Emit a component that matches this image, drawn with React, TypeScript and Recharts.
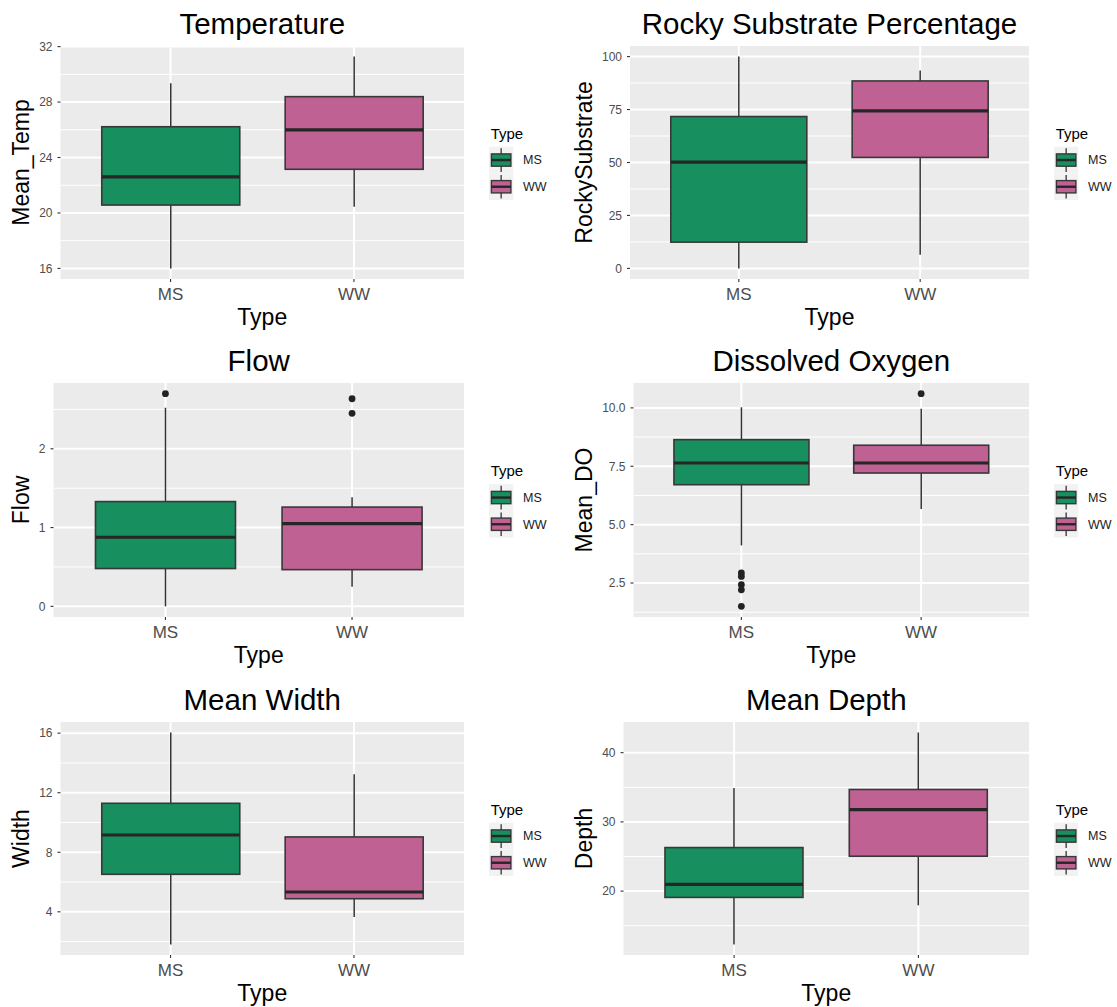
import React from 'react';
import { ComposedChart, Bar, XAxis, YAxis, CartesianGrid, Scatter } from 'recharts';

const FONT = '"Liberation Sans", Arial, Helvetica, sans-serif';

// ---------- data ----------
const categories = ['MS', 'WW'];
const boxFills = ['#178F5F', '#C06194'];
const legendTitle = 'Type';
const xTitle = 'Type';

// Temperature
const tempLow = [16.0, 20.45];
const tempQ1 = [20.57, 23.15];
const tempMedian = [22.61, 25.99];
const tempQ3 = [26.22, 28.39];
const tempHigh = [29.36, 31.28];
const tempOutliers: number[][] = [[], []];
const tempTicks = [16, 20, 24, 28, 32];

// Rocky substrate
const rockLow = [0, 6.5];
const rockQ1 = [12.4, 52.4];
const rockMedian = [50.2, 74.4];
const rockQ3 = [71.7, 88.5];
const rockHigh = [100, 93.4];
const rockOutliers: number[][] = [[], []];
const rockTicks = [0, 25, 50, 75, 100];

// Flow
const flowLow = [0, 0.25];
const flowQ1 = [0.48, 0.466];
const flowMedian = [0.877, 1.05];
const flowQ3 = [1.33, 1.26];
const flowHigh = [2.52, 1.385];
const flowOutliers: number[][] = [[2.7], [2.45, 2.635]];
const flowTicks = [0, 1, 2];

// Dissolved oxygen
const doLow = [4.11, 5.67];
const doQ1 = [6.71, 7.21];
const doMedian = [7.64, 7.64];
const doQ3 = [8.64, 8.4];
const doHigh = [10.03, 9.96];
const doOutliers: number[][] = [[2.93, 2.78, 2.43, 2.21, 1.5], [10.61]];
const doTicks = [2.5, 5.0, 7.5, 10.0];

// Width
const widthLow = [1.81, 3.65];
const widthQ1 = [6.52, 4.88];
const widthMedian = [9.16, 5.33];
const widthQ3 = [11.29, 9.03];
const widthHigh = [16.04, 13.24];
const widthOutliers: number[][] = [[], []];
const widthTicks = [4, 8, 12, 16];

// Depth
const depthLow = [12.3, 17.94];
const depthQ1 = [19.09, 25.04];
const depthMedian = [20.96, 31.76];
const depthQ3 = [26.29, 34.68];
const depthHigh = [34.88, 42.9];
const depthOutliers: number[][] = [[], []];
const depthTicks = [20, 30, 40];

// ---------- panel options ----------
const panels = [
  { title: 'Temperature', yTitle: 'Mean_Temp', low: tempLow, q1: tempQ1, median: tempMedian, q3: tempQ3, high: tempHigh, outliers: tempOutliers, ticks: tempTicks, digits: 0,
    layout: { cellX: 0, cellY: 0, cellW: 554, cellH: 335, L: 60.5, R: 464, T: 46, B: 279 } },
  { title: 'Rocky Substrate Percentage', yTitle: 'RockySubstrate', low: rockLow, q1: rockQ1, median: rockMedian, q3: rockQ3, high: rockHigh, outliers: rockOutliers, ticks: rockTicks, digits: 0,
    layout: { cellX: 563, cellY: 0, cellW: 554, cellH: 335, L: 630, R: 1029, T: 46, B: 279 } },
  { title: 'Flow', yTitle: 'Flow', low: flowLow, q1: flowQ1, median: flowMedian, q3: flowQ3, high: flowHigh, outliers: flowOutliers, ticks: flowTicks, digits: 0,
    layout: { cellX: 0, cellY: 335, cellW: 554, cellH: 335, L: 53.5, R: 464, T: 383, B: 617 } },
  { title: 'Dissolved Oxygen', yTitle: 'Mean_DO', low: doLow, q1: doQ1, median: doMedian, q3: doQ3, high: doHigh, outliers: doOutliers, ticks: doTicks, digits: 1,
    layout: { cellX: 563, cellY: 335, cellW: 554, cellH: 335, L: 633.5, R: 1029, T: 383, B: 617 } },
  { title: 'Mean Width', yTitle: 'Width', low: widthLow, q1: widthQ1, median: widthMedian, q3: widthQ3, high: widthHigh, outliers: widthOutliers, ticks: widthTicks, digits: 0,
    layout: { cellX: 0, cellY: 670, cellW: 554, cellH: 337, L: 60.5, R: 464, T: 722, B: 955 } },
  { title: 'Mean Depth', yTitle: 'Depth', low: depthLow, q1: depthQ1, median: depthMedian, q3: depthQ3, high: depthHigh, outliers: depthOutliers, ticks: depthTicks, digits: 0,
    layout: { cellX: 563, cellY: 670, cellW: 554, cellH: 337, L: 623.5, R: 1029, T: 722, B: 955 } },
];

// ---------- shapes ----------
const WhiskerShape = (props: any) => {
  const { x, y, width, height } = props;
  const cx = x + width / 2;
  return <line x1={cx} x2={cx} y1={y} y2={y + height} stroke="#333333" strokeWidth={1.5} />;
};

const BoxShape = (props: any) => {
  const { x, y, width, height, payload } = props;
  const top = Math.min(y, y + height);
  const h = Math.abs(height);
  const medY = top + (h * (payload.q3 - payload.median)) / (payload.q3 - payload.q1);
  return (
    <g>
      <rect x={x} y={top} width={width} height={h} fill={payload.fill} stroke="#383838" strokeWidth={1.6} />
      <line x1={x} x2={x + width} y1={medY} y2={medY} stroke="#262626" strokeWidth={3.2} />
    </g>
  );
};

const OutlierDot = (props: any) => {
  const { cx, cy } = props;
  return <circle cx={cx} cy={cy} r={3.4} fill="#222222" />;
};

// ---------- panel ----------
function BoxPanel({ p }: { p: any }) {
  const { cellX, cellY, cellW, cellH, L, R, T, B } = p.layout;
  const rows = categories.map((c, i) => ({
    type: c,
    whisker: [p.low[i], p.high[i]],
    box: [p.q1[i], p.q3[i]],
    q1: p.q1[i],
    q3: p.q3[i],
    median: p.median[i],
    fill: boxFills[i],
  }));
  const outlierRows = categories.flatMap((c, i) => p.outliers[i].map((v: number) => ({ pos: i + 1, value: v })));
  const all = [...p.low, ...p.high, ...p.outliers.flat()];
  const lo = Math.min(...all);
  const hi = Math.max(...all);
  const ex = (hi - lo) * 0.05;
  const domain = [lo - ex, hi + ex];
  const step = p.ticks[1] - p.ticks[0];
  const minor: number[] = [];
  for (let v = p.ticks[0] - step / 2; v <= domain[1]; v += step) {
    if (v > domain[0] && v < domain[1]) minor.push(v);
  }
  const catPos = categories.map((_, i) => i + 1);
  const plotW = R - L;
  const catPad = plotW / 22;

  const xLabel = (lp: any) => {
    const vb = lp.viewBox || {};
    return (
      <text x={vb.x + vb.width / 2} y={vb.y + 46} textAnchor="middle" fontSize={23} fontFamily={FONT} fill="#000000">
        {xTitle}
      </text>
    );
  };
  const yLabel = (lp: any) => {
    const vb = lp.viewBox || {};
    const x = vb.x + 28.5;
    const y = vb.y + vb.height / 2;
    return (
      <text x={x} y={y} transform={`rotate(-90, ${x}, ${y})`} textAnchor="middle" fontSize={23} fontFamily={FONT} fill="#000000">
        {p.yTitle}
      </text>
    );
  };

  return (
    <div style={{ position: 'absolute', left: cellX, top: cellY }}>
      <ComposedChart
        width={cellW}
        height={cellH}
        data={rows}
        margin={{ top: T - cellY, right: cellX + cellW - R, bottom: 0, left: 0 }}
        barCategoryGap="12.5%"
        barGap={0}
      >
        <CartesianGrid xAxisId="n" yAxisId={0} horizontalValues={minor} vertical={false} syncWithTicks stroke="#FFFFFF" strokeWidth={1} fill="#EBEBEB" />
        <CartesianGrid xAxisId="n" yAxisId={0} horizontalValues={p.ticks} verticalValues={catPos} syncWithTicks stroke="#FFFFFF" strokeWidth={2} />
        <XAxis
          xAxisId={0}
          dataKey="type"
          type="category"
          padding={{ left: catPad, right: catPad }}
          height={cellY + cellH - B}
          tickSize={3}
          tickMargin={6}
          axisLine={false}
          interval={0}
          tickLine={{ stroke: '#333333', strokeWidth: 1.1 }}
          tick={{ fontSize: 17, fill: '#4D4D4D', fontFamily: FONT }}
          label={xLabel}
        />
        <XAxis xAxisId="w" dataKey="type" type="category" padding={{ left: catPad, right: catPad }} hide />
        <XAxis xAxisId="n" dataKey="pos" type="number" domain={[0.4, categories.length + 0.6]} allowDataOverflow hide />
        <YAxis
          yAxisId={0}
          type="number"
          domain={domain}
          allowDataOverflow
          ticks={p.ticks}
          interval={0}
          width={L - cellX}
          tickSize={3}
          tickMargin={5}
          axisLine={false}
          tickLine={{ stroke: '#333333', strokeWidth: 1.1 }}
          tick={{ fontSize: 12, fill: '#4D4D4D', fontFamily: FONT }}
          tickFormatter={(v: number) => v.toFixed(p.digits)}
          label={yLabel}
        />
        <Bar xAxisId="w" yAxisId={0} dataKey="whisker" shape={WhiskerShape} isAnimationActive={false} />
        <Bar xAxisId={0} yAxisId={0} dataKey="box" shape={BoxShape} isAnimationActive={false} />
        <Scatter xAxisId="n" yAxisId={0} data={outlierRows} dataKey="value" shape={OutlierDot} isAnimationActive={false} />
      </ComposedChart>
    </div>
  );
}

function Overlay() {
  return (
    <svg width={1117} height={1007} style={{ position: 'absolute', left: 0, top: 0, pointerEvents: 'none' }}>
      {panels.map((p, pi) => {
        const { L, R, T, B } = p.layout;
        const cy = (T + B) / 2;
        return (
          <g key={pi}>
            <text x={(L + R) / 2} y={T - 12.5} textAnchor="middle" fontSize={29.5} fontFamily={FONT} fill="#000000">
              {p.title}
            </text>
            <text x={R + 26.7} y={cy - 24} fontSize={15} fontFamily={FONT} fill="#000000">
              {legendTitle}
            </text>
            {categories.map((c, i) => {
              const kt = cy - 15.8 + i * 26.7;
              const kx = R + 25;
              return (
                <g key={c}>
                  <rect x={kx} y={kt} width={24.3} height={26.7} fill="#F2F2F2" />
                  <line x1={kx + 12.15} x2={kx + 12.15} y1={kt + 1.5} y2={kt + 25.2} stroke="#333333" strokeWidth={1.3} />
                  <rect x={kx + 2.4} y={kt + 7.2} width={19.5} height={12.3} fill={boxFills[i]} stroke="#383838" strokeWidth={1.4} />
                  <line x1={kx + 2.4} x2={kx + 21.9} y1={kt + 13.35} y2={kt + 13.35} stroke="#262626" strokeWidth={2.4} />
                  <text x={R + 59} y={kt + 13.35 + 4.4} fontSize={12.5} fontFamily={FONT} fill="#1A1A1A">
                    {c}
                  </text>
                </g>
              );
            })}
          </g>
        );
      })}
    </svg>
  );
}

export default function App() {
  return (
    <div style={{ position: 'absolute', left: 0, top: 0, width: 1117, height: 1007, background: '#FFFFFF', overflow: 'hidden' }}>
      {panels.map((p, i) => (
        <BoxPanel key={i} p={p} />
      ))}
      <Overlay />
    </div>
  );
}
